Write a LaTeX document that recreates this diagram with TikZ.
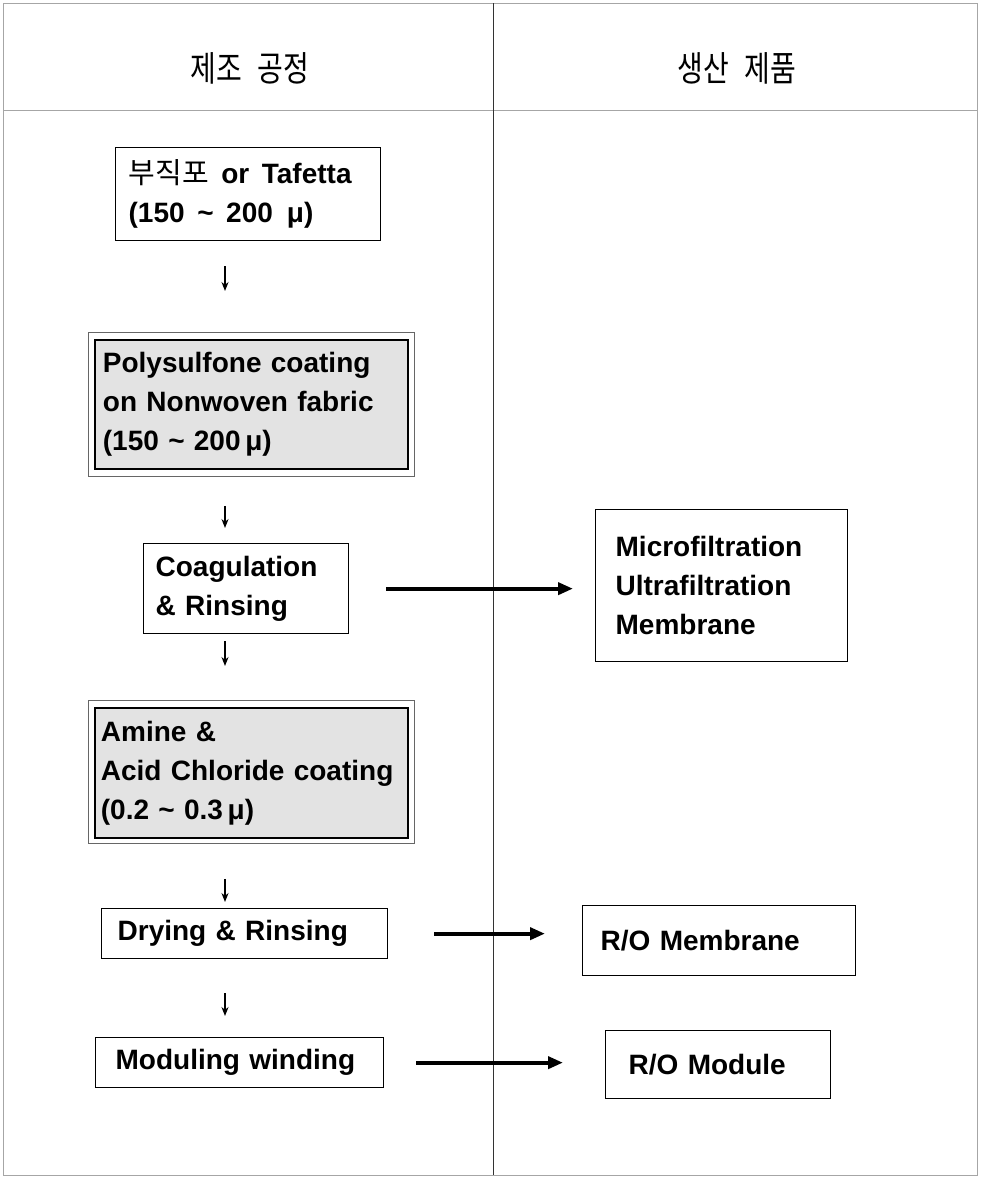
\documentclass[tikz,border=0pt]{standalone}
\usepackage{fontspec}
\setmainfont{Liberation Sans}
\newfontfamily\kr{Noto Sans CJK KR}
\usetikzlibrary{arrows.meta}
\begin{document}
\begin{tikzpicture}[x=1pt,y=-1pt,
  txt/.style={font=\fontsize{28}{39}\selectfont\bfseries},
  box/.style={draw=black, line width=1.3pt, anchor=north west, align=left, inner ysep=0pt, txt},
  shadebox/.style={box, fill=gray!22, line width=1.8pt},
  outerbox/.style={draw=gray!80!black, line width=0.9pt, anchor=north west, inner sep=0pt},
  down/.style={-{Stealth[length=9pt,width=7pt]}, line width=1.4pt},
  flow/.style={-{Triangle[length=15pt,width=12pt]}, line width=4pt},
  frame/.style={draw=gray!70, line width=1pt},
  head/.style={font=\kr\fontsize{35}{38}\selectfont, xscale=0.8}]
\useasboundingbox (0,0) rectangle (980,1178);
% frame
\draw[frame] (3,3) rectangle (977,1175);
\draw[frame] (3,110) -- (977,110);
\draw[line width=1pt, black!80] (493,3) -- (493,1175);
% headers
\node[head] (h1) at (250,68) {제조\hspace{0.55em}공정};
\node[head] (h2) at (737,68) {생산\hspace{0.55em}제품};
% process boxes
\node[box, minimum width=265pt, minimum height=93pt, inner xsep=13pt, text width=239pt] (b1) at (115,147)
  {{\kr\mdseries\fontsize{29}{39}\selectfont 부직포}\hspace{0.45em}or\hspace{0.45em}Tafetta\\(150\hspace{0.45em}\textasciitilde\hspace{0.45em}200\hspace{0.5em}μ)};
\node[outerbox, minimum width=326pt, minimum height=144pt] (b2o) at (88,332) {};
\node[shadebox, minimum width=313pt, minimum height=129pt, inner xsep=8pt, text width=297pt] (b2) at (94,339)
  {Polysulfone coating\\on Nonwoven fabric\\(150 \textasciitilde\ 200\,μ)};
\node[box, minimum width=205pt, minimum height=90pt, inner xsep=12pt, text width=181pt] (b3) at (143,543)
  {Coagulation\\\& Rinsing};
\node[outerbox, minimum width=326pt, minimum height=143pt] (b5o) at (88,700) {};
\node[shadebox, minimum width=313pt, minimum height=130pt, inner xsep=6pt, text width=301pt] (b5) at (94,707)
  {Amine \&\\Acid Chloride coating\\(0.2 \textasciitilde\ 0.3\,μ)};
\node[box, minimum width=286pt, minimum height=50pt, inner xsep=16pt, text width=254pt] (b6) at (101,908)
  {Drying \& Rinsing};
\node[box, minimum width=288pt, minimum height=50pt, inner xsep=20pt, text width=248pt] (b8) at (95,1037)
  {Moduling winding};
% product boxes
\node[box, minimum width=252pt, minimum height=152pt, inner xsep=20pt, text width=212pt] (b4) at (595,509)
  {Microfiltration\\Ultrafiltration\\Membrane};
\node[box, minimum width=273pt, minimum height=70pt, inner xsep=18pt, text width=237pt] (b7) at (582,905)
  {R/O Membrane};
\node[box, minimum width=225pt, minimum height=68pt, inner xsep=23pt, text width=179pt] (b9) at (605,1030)
  {R/O Module};
% small down arrows
\coordinate (ax) at (225,0);
\draw[down, shorten <=25pt, shorten >=41pt] (b1.south -| ax) -- (b2o.north -| ax);
\draw[down, shorten <=29pt, shorten >=15pt] (b2o.south -| ax) -- (b3.north -| ax);
\draw[down, shorten <=7pt, shorten >=34pt] (b3.south -| ax) -- (b5o.north -| ax);
\draw[down, shorten <=35pt, shorten >=6pt] (b5o.south -| ax) -- (b6.north -| ax);
\draw[down, shorten <=34pt, shorten >=21pt] (b6.south -| ax) -- (b8.north -| ax);
% flow arrows
\draw[flow, shorten <=37pt, shorten >=22pt] (b3.east) -- (b3.east -| b4.west);
\draw[flow, shorten <=46pt, shorten >=37pt] (b6.east) -- (b6.east -| b7.west);
\draw[flow, shorten <=32pt, shorten >=42pt] (b8.east) -- (b8.east -| b9.west);
\end{tikzpicture}
\end{document}
